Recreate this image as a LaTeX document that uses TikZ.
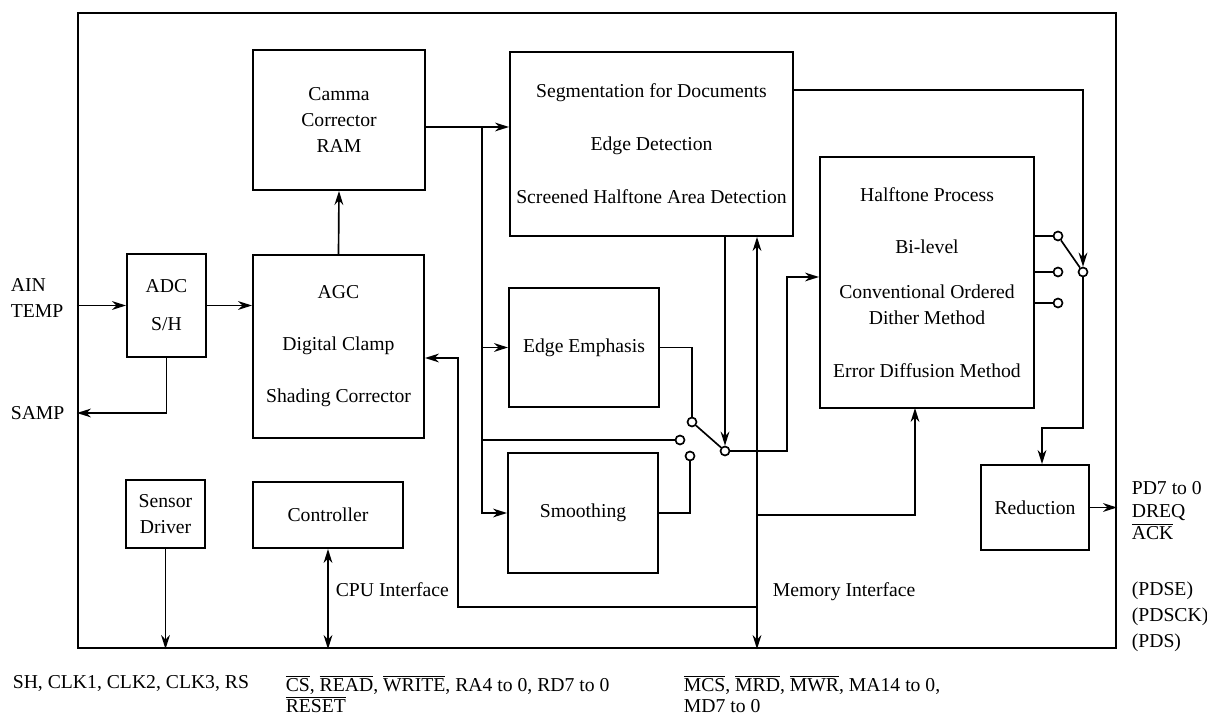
\documentclass[tikz,border=0pt]{standalone}
\usepackage{fontspec}
\setmainfont{Liberation Serif}
\usetikzlibrary{arrows.meta}
\newcommand{\blkfont}{\fontsize{11.2pt}{14.8pt}\selectfont}
\newcommand{\sigbar}[1]{$\overline{\mbox{#1}}$}
\begin{document}
\begin{tikzpicture}[x=0.02cm, y=-0.02cm, line width=0.95pt,
		>={Stealth[length=8pt,width=5pt]},
		nodes={font=\blkfont},
		blk/.style={draw, align=center, line width=1.1pt},
		contact/.style={draw, circle, fill=white, inner sep=0pt, minimum size=0.18cm, line width=0.95pt},
		lbl/.style={anchor=west, align=left, inner sep=0pt}]
			\useasboundingbox (0,0) rectangle (1207,719);
			\node (frame) [draw, line width=1.3pt, minimum width=20.76cm, minimum height=12.7cm] at (597,330.5) {};
			\node (adc) [blk, minimum width=1.58cm, minimum height=2.06cm] at (166.5,305.5) {ADC\\[0.24cm]S/H};
			\node (agc) [blk, minimum width=3.42cm, minimum height=3.66cm] at (338.5,346.5) {AGC\\[0.52cm]Digital Clamp\\[0.52cm]Shading Corrector};
			\node (gam) [blk, minimum width=3.44cm, minimum height=2.8cm] at (339,120) {Camma\\Corrector\\RAM};
			\node (seg) [blk, minimum width=5.66cm, minimum height=3.68cm] at (651.5,144) {Segmentation for Documents\\[0.54cm]Edge Detection\\[0.54cm]Screened Halftone Area Detection};
			\node (edg) [blk, minimum width=3cm, minimum height=2.38cm] at (584,347.5) {Edge Emphasis};
			\node (smo) [blk, minimum width=3cm, minimum height=2.4cm] at (583,513) {Smoothing};
			\node (hal) [blk, minimum width=4.28cm, minimum height=5.02cm] at (927,282.5) {Halftone Process\\[0.52cm]Bi-level\\[0.38cm]Conventional Ordered\\Dither Method\\[0.54cm]Error Diffusion Method};
			\node (red) [blk, minimum width=2.16cm, minimum height=1.7cm] at (1035,507.5) {Reduction};
			\node (sd) [blk, minimum width=1.58cm, minimum height=1.36cm] at (165.5,514) {Sensor\\Driver};
			\node (ctl) [blk, minimum width=3cm, minimum height=1.32cm] at (328,515) {Controller};
			\node (swa1) [contact] at (692,422) {};
			\node (swa2) [contact] at (680,440) {};
			\node (swa3) [contact] at (690,456) {};
			\node (swap) [contact] at (725,451) {};
			\node (swb1) [contact] at (1058,236) {};
			\node (swb2) [contact] at (1058,272) {};
			\node (swb3) [contact] at (1058,303) {};
			\node (swbp) [contact] at (1083,272) {};
			\coordinate (bus) at (482,127);
			\coordinate (mem) at (757,515);
			\coordinate (ret) at (458,607);
			\coordinate (agcin) at (458,358);
			\coordinate (halin) at (787,277);
			\coordinate (halbot) at (915,408);
			\coordinate (segout) at (1083,90);
			\coordinate (redin) at (1042,428);
			\node (ain) [lbl] at (10,298) {AIN\\TEMP};
			\node (samp) [lbl] at (10,413) {SAMP};
			\node (pd) [lbl] at (1131,511) {PD7 to 0\\[-2pt]DREQ\\[-2pt]\sigbar{ACK}};
			\node (pds) [lbl] at (1131,617) {(PDSE)\\(PDSCK)\\(PDS)};
			\node (memif) [lbl] at (772,592) {Memory Interface};
			\node (cpuif) [lbl] at (335,590) {CPU Interface};
			\node (sdsig) [lbl] at (12,683) {SH, CLK1, CLK2, CLK3, RS};
			\node (cpusig) [lbl] at (285,694) {\sigbar{CS}, \sigbar{READ}, \sigbar{WRITE}, RA4 to 0, RD7 to 0\\[-3pt]\sigbar{RESET}};
			\node (memsig) [lbl] at (683,694) {\sigbar{MCS}, \sigbar{MRD}, \sigbar{MWR}, MA14 to 0,\\[-3pt]MD7 to 0};
			\draw[->] (adc.west -| frame.west) -- (adc.west);
			\draw[->] (adc.east) -- (adc.east -| agc.west);
			\draw[->] (adc.south) |- (samp.east -| frame.west);
			\draw[->] (agc.north) -- (gam.south);
			\draw[->] (gam.east |- bus) -- (seg.west |- bus);
			\draw[->] (bus) |- (smo.west);
			\draw[->] (bus |- edg.west) -- (edg.west);
			\draw (bus |- swa2) -- (swa2);
			\draw (edg.east) -| (swa1);
			\draw (smo.east) -| (swa3);
			\draw (swa1) -- (swap);
			\draw[->] (swap |- seg.south) -- (swap);
			\draw[->] (swap) -| (halin) -- (halin -| hal.west);
			\draw[<->] (mem |- seg.south) -- (mem |- frame.south);
			\draw[->] (mem) -| (halbot);
			\draw[->] (mem |- ret) -- (ret) -- (agcin) -- (agcin -| agc.east);
			\draw[->] (seg.east |- segout) -| (swbp);
			\draw (hal.east |- swb1) -- (swb1);
			\draw (hal.east |- swb2) -- (swb2);
			\draw (hal.east |- swb3) -- (swb3);
			\draw (swb1) -- (swbp);
			\draw[->] (swbp) |- (redin) -- (redin |- red.north);
			\draw[->] (red.east) -- (red.east -| frame.east);
			\draw[->] (sd.south) -- (sd.south |- frame.south);
			\draw[<->] (ctl.south) -- (ctl.south |- frame.south);
		\end{tikzpicture}
\end{document}
